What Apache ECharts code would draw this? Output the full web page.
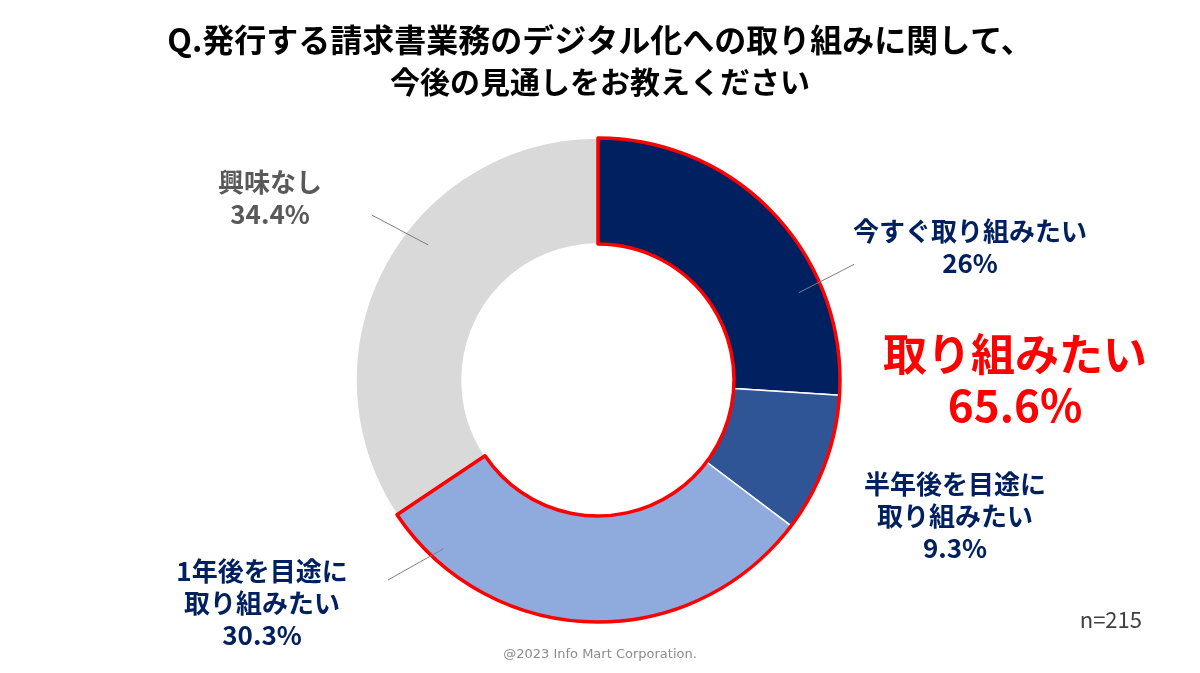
<!DOCTYPE html>
<html>
<head>
<meta charset="utf-8">
<script src="https://cdn.jsdelivr.net/npm/echarts@6/dist/echarts.min.js"></script>
<style>html,body{margin:0;padding:0;background:#fff;}#chart{width:1200px;height:673px;}</style>
</head>
<body>
<div id="chart"></div>
<script>
const titleLines = ['Q.発行する請求書業務のデジタル化への取り組みに関して、', '今後の見通しをお教えください'];
const categories = ['今すぐ取り組みたい', '半年後を目途に\n取り組みたい', '1年後を目途に\n取り組みたい', '興味なし'];
const values = [26, 9.3, 30.3, 34.4];
const groupNames = ['取り組みたい', '興味なし'];
const groupValues = [65.6, 34.4];
const sampleNote = 'n=215';
const copyright = '@2023 Info Mart Corporation.';

const colors = ['#002060', '#2F5597', '#8FAADC', '#D9D9D9'];
const labelColors = ['#002060', '#002060', '#002060', '#595959'];
const labelPos = [[970, 247], [955, 516], [262, 603], [270, 198]];
// leader lines: [start angle (deg clockwise from top), start r, end angle, end r]
const leaders = [[66.5, 219, 65.7, 281], null, [222.5, 229, 226.4, 290], [308.5, 217, 306.1, 280]];
const CENTER = [598, 380];
const FONT = '"Noto Sans CJK JP", "Noto Sans", sans-serif';

function polar(angle, r) {
  const a = angle * Math.PI / 180;
  return [CENTER[0] + r * Math.sin(a), CENTER[1] - r * Math.cos(a)];
}
const leaderGraphics = leaders.filter(l => l).map(l => {
  const p1 = polar(l[0], l[1]), p2 = polar(l[2], l[3]);
  return { type: 'line', z: 10, silent: true,
    shape: { x1: p1[0], y1: p1[1], x2: p2[0], y2: p2[1] },
    style: { stroke: '#808080', lineWidth: 1 } };
});

const chart = echarts.init(document.getElementById('chart'));
chart.setOption({
  backgroundColor: '#ffffff',
  animation: false,
  title: [
    { text: titleLines[0], left: 'center', top: 19,
      textStyle: { fontFamily: FONT, fontSize: 32, fontWeight: 'bold', color: '#000' } },
    { text: titleLines[1], left: 'center', top: 62,
      textStyle: { fontFamily: FONT, fontSize: 30, fontWeight: 'bold', color: '#000' } }
  ],
  graphic: [
    { type: 'text', right: 58, top: 609, style: { text: sampleNote, fontFamily: FONT, fontSize: 22, fill: '#404040' } },
    { type: 'text', left: 'center', top: 648, style: { text: copyright, fontFamily: '"DejaVu Sans", sans-serif', fontSize: 13, fill: '#8c8c8c' } }
  ].concat(leaderGraphics),
  series: [
    {
      type: 'pie',
      z: 2,
      center: CENTER,
      radius: [136, 242],
      startAngle: 90,
      clockwise: true,
      avoidLabelOverlap: false,
      silent: true,
      data: categories.map((c, i) => ({
        name: c, value: values[i],
        itemStyle: { color: colors[i] },
        label: { color: labelColors[i] }
      })),
      itemStyle: { borderColor: '#ffffff', borderWidth: 1.5 },
      label: {
        show: true,
        fontFamily: FONT,
        fontSize: 26,
        fontWeight: 'bold',
        lineHeight: 32,
        align: 'center',
        formatter: p => p.name + '\n' + p.value + '%'
      },
      labelLine: { show: false },
      labelLayout: p => ({ x: labelPos[p.dataIndex][0], y: labelPos[p.dataIndex][1], align: 'center', verticalAlign: 'middle' })
    },
    {
      type: 'pie',
      z: 4,
      center: CENTER,
      radius: [136, 242],
      startAngle: 90,
      clockwise: true,
      avoidLabelOverlap: false,
      silent: true,
      data: [
        { name: groupNames[0], value: groupValues[0], itemStyle: { color: 'rgba(0,0,0,0)', borderColor: '#FF0000', borderWidth: 3.5 },
          label: { show: true } },
        { name: groupNames[1], value: groupValues[1], itemStyle: { color: 'rgba(0,0,0,0)', borderWidth: 0 }, label: { show: false } }
      ],
      label: {
        fontFamily: FONT,
        fontSize: 44,
        fontWeight: 'bold',
        color: '#FF0000',
        lineHeight: 51,
        align: 'center',
        formatter: p => p.name + '\n' + p.value + '%'
      },
      labelLine: { show: false },
      labelLayout: p => ({ x: 1015, y: 380, align: 'center', verticalAlign: 'middle' })
    }
  ]
});
</script>
</body>
</html>
